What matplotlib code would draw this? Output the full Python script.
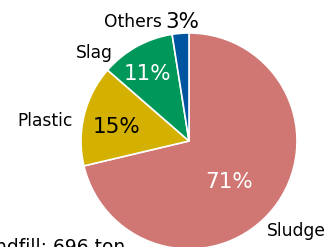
import matplotlib.pyplot as plt

plt.rcParams['font.family'] = ['DejaVu Sans']

categories = ["Sludge", "Plastic", "Slag", "Others"]
shares = [71.3, 15.1, 11.1, 2.5]
pct_labels = ["71%", "15%", "11%", "3%"]
colors = ["#D07774", "#D4B000", "#00975A", "#0055A0"]
total_label = "Landfill: 696 ton"

W, H = 331, 247
fig = plt.figure(figsize=(W / 100, H / 100), dpi=100)
ax = fig.add_axes([0, 0, 1, 1])

cx, cy, r = 189, H - 141, 108
ax.pie(shares, colors=colors, startangle=90, counterclock=False,
       center=(cx, cy), radius=r,
       wedgeprops=dict(edgecolor="white", linewidth=1.2))
ax.set_xlim(0, W)
ax.set_ylim(0, H)
ax.set_aspect("equal")
ax.axis("off")

name_fs = 12.3
pct_fs = 15.5

# category names outside the pie (x centre, baseline from top)
ax.text(296, H - 236, categories[0], fontsize=name_fs, ha="center", va="baseline")
ax.text(45, H - 126, categories[1], fontsize=name_fs, ha="center", va="baseline")
ax.text(94, H - 58, categories[2], fontsize=name_fs, ha="center", va="baseline")
ax.text(133, H - 27, categories[3], fontsize=name_fs, ha="center", va="baseline")

# percentages
ax.text(229, H - 188, pct_labels[0], fontsize=pct_fs, color="white", ha="center", va="baseline")
ax.text(117, H - 133, pct_labels[1], fontsize=pct_fs, color="black", ha="center", va="baseline")
ax.text(148, H - 80, pct_labels[2], fontsize=pct_fs, color="white", ha="center", va="baseline")
ax.text(182, H - 28, pct_labels[3], fontsize=pct_fs, color="black", ha="center", va="baseline")

# total, mostly below the bottom edge as in the original crop
ax.text(125, H - 253, total_label, fontsize=13.5, ha="right", va="baseline")

fig.savefig("out.png", dpi=100)
